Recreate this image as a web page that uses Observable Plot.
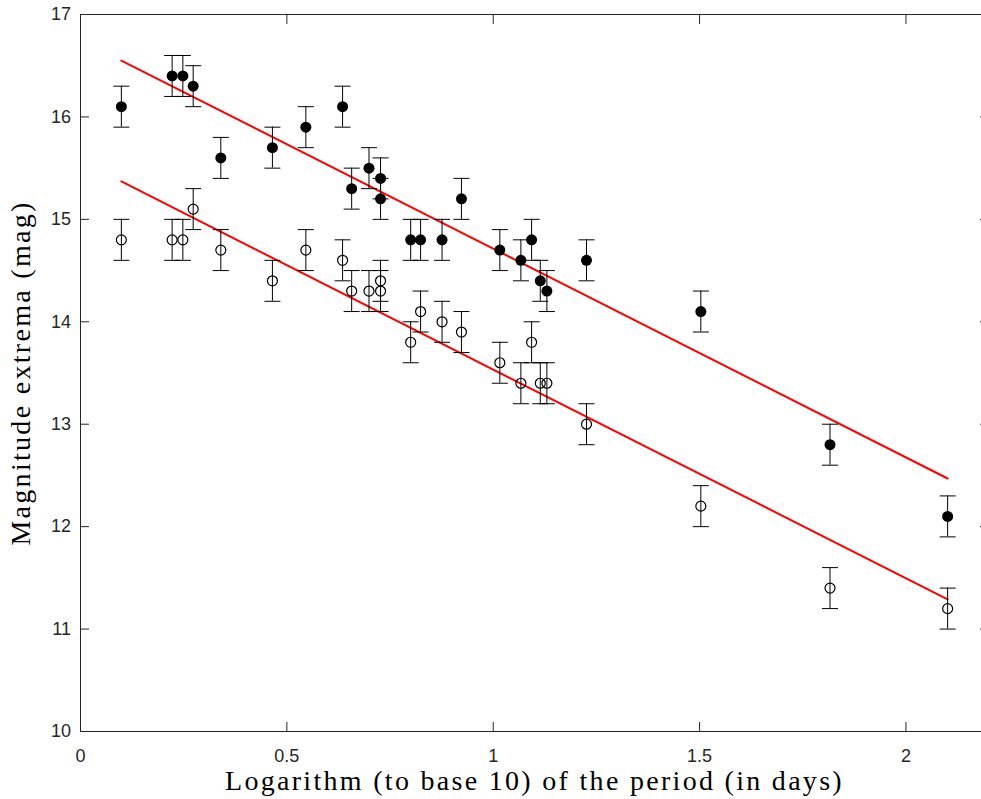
<!DOCTYPE html>
<html>
<head>
<meta charset="utf-8">
<script src="https://cdn.jsdelivr.net/npm/d3@7"></script>
<script src="https://cdn.jsdelivr.net/npm/@observablehq/plot@0.6"></script>
<style>
  html, body { margin: 0; padding: 0; overflow: hidden; background: #fff; }
  #chart svg { display: block; max-width: none !important; width: 988px; height: 799px; }
  g[aria-label="text"] text { letter-spacing: 2.3px; }
  g[aria-label="x-axis tick label"], g[aria-label="y-axis tick label"] { font-size: 18px; }
</style>
</head>
<body>
<div id="chart"></div>
<script>
// log10 of the period (days)
const logPeriod = [0.099, 0.222, 0.248, 0.273, 0.340, 0.465, 0.546, 0.635, 0.657, 0.699, 0.727, 0.727,
                   0.800, 0.824, 0.876, 0.923, 1.016, 1.067, 1.093, 1.114, 1.130, 1.226, 1.503, 1.816, 2.101];
// magnitude maxima (filled markers)
const magMax = [16.1, 16.4, 16.4, 16.3, 15.6, 15.7, 15.9, 16.1, 15.3, 15.5, 15.4, 15.2,
                14.8, 14.8, 14.8, 15.2, 14.7, 14.6, 14.8, 14.4, 14.3, 14.6, 14.1, 12.8, 12.1];
// magnitude minima (open markers)
const magMin = [14.8, 14.8, 14.8, 15.1, 14.7, 14.4, 14.7, 14.6, 14.3, 14.3, 14.4, 14.3,
                13.8, 14.1, 14.0, 13.9, 13.6, 13.4, 13.8, 13.4, 13.4, 13.0, 12.2, 11.4, 11.2];
// error half-width (mag)
const magError = 0.2;
// fitted lines (end points)
const fitX = [0.099, 2.101];
const fitMax = [16.55, 12.47];
const fitMin = [15.37, 11.29];
// ticks and labels
const xTicks = [0, 0.5, 1, 1.5, 2];
const yTicks = [10, 11, 12, 13, 14, 15, 16, 17];
const xLabel = "Logarithm (to base 10) of the period (in days)";
const yLabel = "Magnitude extrema (mag)";

const maxPts = logPeriod.map((x, i) => ({x, y: magMax[i]}));
const minPts = logPeriod.map((x, i) => ({x, y: magMin[i]}));
const allPts = maxPts.concat(minPts);
const fits = [fitMax, fitMin].flatMap((ys, k) => fitX.map((x, i) => ({x, y: ys[i], fit: k})));

const cap = {draw(ctx) { ctx.moveTo(-8, 0); ctx.lineTo(8, 0); }};
const axisColor = "#262626";
const tickFont = "'Liberation Sans', Arial, Helvetica, sans-serif";
const labelFont = "'Liberation Serif', 'Times New Roman', serif";
const fmt = d => String(d);

const chart = Plot.plot({
  width: 988,
  height: 799,
  marginLeft: 80,
  marginRight: 0,
  marginTop: 14,
  marginBottom: 68,
  style: {fontFamily: tickFont, fontSize: "18px", background: "white", overflow: "visible"},
  x: {domain: [0, 2.2], label: null},
  y: {domain: [10, 17], label: null},
  marks: [
    Plot.line(fits, {x: "x", y: "y", z: "fit", stroke: "#ff0000", strokeWidth: 2}),
    Plot.ruleX(allPts, {x: "x", y1: d => d.y - magError, y2: d => d.y + magError, stroke: "black", strokeWidth: 1}),
    Plot.dot(allPts, {x: "x", y: d => d.y + magError, symbol: cap, stroke: "black", strokeWidth: 1}),
    Plot.dot(allPts, {x: "x", y: d => d.y - magError, symbol: cap, stroke: "black", strokeWidth: 1}),
    Plot.dot(maxPts, {x: "x", y: "y", r: 5.5, fill: "black"}),
    Plot.dot(minPts, {x: "x", y: "y", r: 5, fill: "none", stroke: "black", strokeWidth: 1.2}),
    Plot.frame({stroke: axisColor}),
    Plot.axisX(xTicks, {anchor: "bottom", tickSize: -9, tickPadding: 27, tickFormat: fmt, color: axisColor, label: null, fontSize: 18}),
    Plot.axisX(xTicks, {anchor: "top", tickSize: -9, tickFormat: () => "", color: axisColor, label: null}),
    Plot.axisY(yTicks, {anchor: "left", tickSize: -9, tickPadding: 18.5, tickFormat: fmt, color: axisColor, label: null, fontSize: 18}),
    Plot.axisY(yTicks, {anchor: "right", tickSize: -9, tickFormat: () => "", color: axisColor, label: null}),
    Plot.text([xLabel], {text: d => d, frameAnchor: "bottom", textAnchor: "middle", lineAnchor: "middle", dy: 50, fontFamily: labelFont, fontSize: 28, fill: "black"}),
    Plot.text([yLabel], {text: d => d, frameAnchor: "left", textAnchor: "middle", lineAnchor: "middle", rotate: -90, dx: -59, fontFamily: labelFont, fontSize: 28, fill: "black"})
  ]
});
document.getElementById("chart").appendChild(chart);
</script>
</body>
</html>
